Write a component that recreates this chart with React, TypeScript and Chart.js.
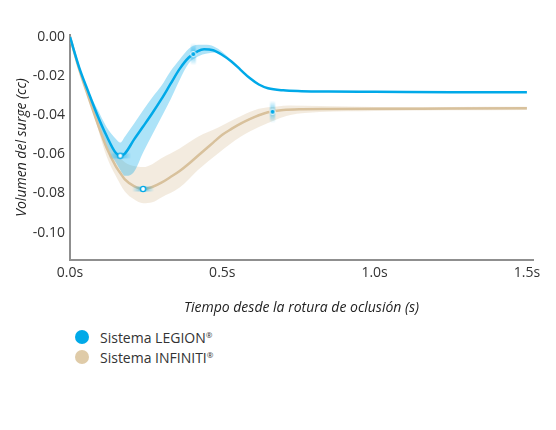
import React, { useEffect, useRef } from "react";
import Chart from "chart.js/auto";

// time grid (s) shared by both mean curves
const lineTime = [
    0, 0.03, 0.06, 0.09, 0.12, 0.15, 0.165, 0.18, 0.21, 0.24,
    0.27, 0.3, 0.33, 0.36, 0.39, 0.42, 0.44, 0.47, 0.5, 0.53,
    0.56, 0.59, 0.62, 0.65, 0.7, 0.76, 0.85, 1.0, 1.25, 1.5,
];
const legionVolume = [
    0, -0.0155, -0.028, -0.04, -0.0505, -0.0592, -0.0607, -0.0596, -0.0525, -0.0458,
    -0.039, -0.0318, -0.024, -0.0163, -0.0105, -0.0072, -0.0063, -0.0068, -0.0092, -0.0125,
    -0.0168, -0.021, -0.0243, -0.0262, -0.0273, -0.0277, -0.0279, -0.028, -0.0282, -0.0283,
];
const infinitiVolume = [
    0, -0.0165, -0.0305, -0.044, -0.0565, -0.066, -0.0695, -0.0728, -0.0762, -0.0777,
    -0.0767, -0.0745, -0.0716, -0.0685, -0.0648, -0.0607, -0.058, -0.054, -0.05, -0.047,
    -0.0443, -0.042, -0.04, -0.0385, -0.0373, -0.0369, -0.0368, -0.0367, -0.0366, -0.0365,
];

// variability bands
const legionBandTime = [0.06, 0.09, 0.12, 0.15, 0.165, 0.18, 0.21, 0.24, 0.27, 0.3, 0.33, 0.36, 0.39, 0.42, 0.45, 0.48, 0.51, 0.54];
const legionUpper = [-0.028, -0.037, -0.046, -0.052, -0.054, -0.051, -0.0444, -0.0375, -0.031, -0.025, -0.0175, -0.0115, -0.006, -0.004, -0.004, -0.0055, -0.009, -0.014];
const legionLower = [-0.028, -0.044, -0.057, -0.064, -0.068, -0.071, -0.069, -0.059, -0.05, -0.041, -0.032, -0.022, -0.0135, -0.01, -0.0085, -0.008, -0.01, -0.014];

const infinitiBandTime = [0.06, 0.09, 0.12, 0.15, 0.18, 0.21, 0.24, 0.27, 0.3, 0.36, 0.42, 0.49, 0.56, 0.62, 0.68, 0.72, 0.82, 1.0, 1.25, 1.5];
const infinitiUpper = [-0.0305, -0.041, -0.052, -0.059, -0.064, -0.066, -0.0665, -0.065, -0.062, -0.057, -0.051, -0.046, -0.0405, -0.0367, -0.0355, -0.035, -0.0353, -0.0358, -0.0358, -0.0357];
const infinitiLower = [-0.0305, -0.046, -0.061, -0.071, -0.079, -0.083, -0.085, -0.0845, -0.082, -0.077, -0.068, -0.059, -0.051, -0.046, -0.042, -0.04, -0.0384, -0.0378, -0.0375, -0.0373];

// highlighted points
const minimumTime = [0.165, 0.24];
const minimumVolume = [-0.0607, -0.0777];
const recoveryTime = [0.405, 0.665];
const recoveryVolume = [-0.0088, -0.0382];

const xTicks = [0, 0.5, 1.0, 1.5];
const yTicks = [0, -0.02, -0.04, -0.06, -0.08, -0.1];

const series = ["Sistema LEGION", "Sistema INFINITI"];

const BLUE = "#00a9e8";
const TAN = "#d8c19c";
const TAN_DOT = "#dfcba8";
const FONT = "'Open Sans', sans-serif";

const pts = (xs: number[], ys: number[]) => xs.map((x, i) => ({ x, y: ys[i] }));

// little glow marker drawn on an offscreen canvas, used as pointStyle
function glowMarker(horizontal: boolean, hollow: boolean): HTMLCanvasElement {
    const long = 22;
    const short = 8;
    const c = document.createElement("canvas");
    c.width = horizontal ? long : short;
    c.height = horizontal ? short : long;
    const ctx = c.getContext("2d")!;
    const g = horizontal
        ? ctx.createLinearGradient(0, 0, long, 0)
        : ctx.createLinearGradient(0, 0, 0, long);
    g.addColorStop(0, "rgba(0,169,232,0)");
    g.addColorStop(0.3, "rgba(0,169,232,0.35)");
    g.addColorStop(0.5, "rgba(0,169,232,0.6)");
    g.addColorStop(0.7, "rgba(0,169,232,0.35)");
    g.addColorStop(1, "rgba(0,169,232,0)");
    ctx.fillStyle = g;
    if (horizontal) ctx.fillRect(0, 1.5, long, 5);
    else ctx.fillRect(1.5, 0, 5, long);
    ctx.beginPath();
    ctx.arc(c.width / 2, c.height / 2, 2.6, 0, Math.PI * 2);
    if (hollow) {
        ctx.fillStyle = "#fff";
        ctx.fill();
        ctx.lineWidth = 1.4;
        ctx.strokeStyle = BLUE;
        ctx.stroke();
    } else {
        ctx.fillStyle = BLUE;
        ctx.fill();
        ctx.lineWidth = 1;
        ctx.strokeStyle = "#fff";
        ctx.stroke();
    }
    return c;
}

const SurgeChart: React.FC = () => {
    const chartRef = useRef<HTMLCanvasElement | null>(null);
    const chartInstance = useRef<Chart | null>(null);

    useEffect(() => {
        if (!chartRef.current) return;
        const ctx = chartRef.current.getContext("2d");
        if (!ctx) return;

        const tickFont = { family: FONT, size: 14 };
        const titleFont = { family: FONT, size: 14, style: "italic" as const };

        chartInstance.current = new Chart(ctx, {
            type: "line",
            data: {
                datasets: [
                    {
                        label: "minimums",
                        data: pts(minimumTime, minimumVolume),
                        showLine: false,
                        pointStyle: glowMarker(true, true),
                        order: 0,
                    },
                    {
                        label: "recovery",
                        data: pts(recoveryTime, recoveryVolume),
                        showLine: false,
                        pointStyle: glowMarker(false, false),
                        order: 0,
                    },
                    {
                        label: series[0],
                        data: pts(lineTime, legionVolume),
                        borderColor: BLUE,
                        borderWidth: 2.5,
                        pointRadius: 0,
                        cubicInterpolationMode: "monotone",
                        order: 1,
                    },
                    {
                        label: series[1],
                        data: pts(lineTime, infinitiVolume),
                        borderColor: TAN,
                        borderWidth: 2.5,
                        pointRadius: 0,
                        cubicInterpolationMode: "monotone",
                        order: 2,
                    },
                    {
                        label: "legion upper",
                        data: pts(legionBandTime, legionUpper),
                        borderWidth: 0,
                        borderColor: "rgba(0,0,0,0)",
                        pointRadius: 0,
                        cubicInterpolationMode: "monotone",
                        order: 3,
                    },
                    {
                        label: "legion lower",
                        data: pts(legionBandTime, legionLower),
                        borderWidth: 0,
                        borderColor: "rgba(0,0,0,0)",
                        backgroundColor: "rgba(0,169,232,0.32)",
                        fill: "-1",
                        pointRadius: 0,
                        cubicInterpolationMode: "monotone",
                        order: 3,
                    },
                    {
                        label: "infiniti upper",
                        data: pts(infinitiBandTime, infinitiUpper),
                        borderWidth: 0,
                        borderColor: "rgba(0,0,0,0)",
                        pointRadius: 0,
                        cubicInterpolationMode: "monotone",
                        order: 4,
                    },
                    {
                        label: "infiniti lower",
                        data: pts(infinitiBandTime, infinitiLower),
                        borderWidth: 0,
                        borderColor: "rgba(0,0,0,0)",
                        backgroundColor: "rgba(215,190,150,0.3)",
                        fill: "-1",
                        pointRadius: 0,
                        cubicInterpolationMode: "monotone",
                        order: 4,
                    },
                ],
            },
            options: {
                responsive: false,
                animation: false,
                events: [],
                layout: { padding: { top: 35, left: 10, right: 23, bottom: 3.6 } },
                plugins: {
                    legend: { display: false },
                    tooltip: { enabled: false },
                },
                scales: {
                    x: {
                        type: "linear",
                        min: 0,
                        max: 1.52,
                        grid: { display: false, drawTicks: false },
                        border: { display: true, color: "#8f8f8f", width: 2 },
                        ticks: {
                            font: tickFont,
                            color: "#333",
                            padding: 5,
                            maxRotation: 0,
                            callback: (v) => Number(v).toFixed(1) + "s",
                        },
                        afterBuildTicks: (s) => {
                            s.ticks = xTicks.map((value) => ({ value }));
                        },
                        afterFit: (s) => {
                            s.height = 56.4;
                        },
                        title: {
                            display: true,
                            text: "Tiempo desde la rotura de oclusión (s)",
                            font: titleFont,
                            color: "#222",
                            padding: { top: 0, bottom: 0 },
                        },
                    },
                    y: {
                        min: -0.114,
                        max: 0.001,
                        grid: { display: false, drawTicks: false },
                        border: { display: true, color: "#8f8f8f", width: 2 },
                        ticks: {
                            font: tickFont,
                            color: "#333",
                            padding: 5,
                            callback: (v) => Number(v).toFixed(2),
                        },
                        afterBuildTicks: (s) => {
                            s.ticks = yTicks.map((value) => ({ value }));
                        },
                        afterFit: (s) => {
                            s.width = 60;
                        },
                        title: {
                            display: true,
                            text: "Volumen del surge (cc)",
                            font: titleFont,
                            color: "#222",
                            padding: { top: 4, bottom: 0 },
                        },
                    },
                },
            },
        });

        return () => {
            if (chartInstance.current) {
                chartInstance.current.destroy();
                chartInstance.current = null;
            }
        };
    }, []);

    const legendColors = [BLUE, TAN_DOT];

    return (
        <div style={{ position: "absolute", left: 0, top: 0, width: 556, height: 430, background: "#fff" }}>
            <canvas ref={chartRef} width={556} height={320} style={{ display: "block" }}></canvas>
            {series.map((name, i) => (
                <div
                    key={name}
                    style={{
                        position: "absolute",
                        left: 75,
                        top: 327 + i * 20,
                        height: 20,
                        display: "flex",
                        alignItems: "center",
                        fontFamily: FONT,
                        fontSize: 14,
                        color: "#333",
                    }}
                >
                    <span
                        style={{
                            display: "inline-block",
                            width: 14,
                            height: 14,
                            borderRadius: 7,
                            background: legendColors[i],
                            marginRight: 11,
                        }}
                    ></span>
                    <span>
                        {name}
                        <sup style={{ fontSize: 8, verticalAlign: "5px" }}>®</sup>
                    </span>
                </div>
            ))}
        </div>
    );
};

export default function App() {
    return <SurgeChart />;
}
